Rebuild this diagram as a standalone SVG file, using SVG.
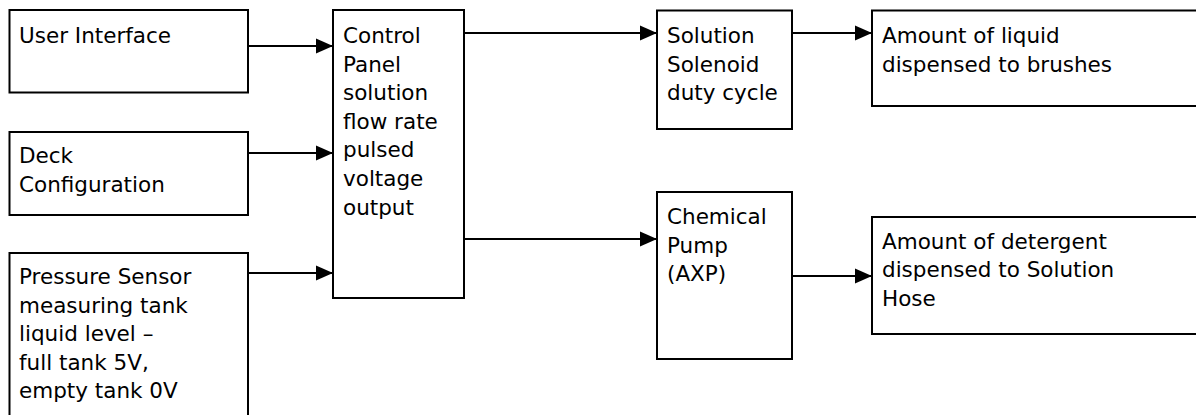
<svg xmlns="http://www.w3.org/2000/svg" width="1196" height="415" viewBox="0 0 1196 415">
<style>
.box{fill:#fff;stroke:#000;stroke-width:2}
.t{font-family:"DejaVu Sans",sans-serif;font-size:21.5px;fill:#000}
.c{stroke:#000;stroke-width:2;fill:none}
</style>
<defs>
<marker id="arr" markerUnits="userSpaceOnUse" markerWidth="17" markerHeight="16" refX="17" refY="8" orient="auto">
<path d="M0,0.5 L17,8 L0,15.5 z" fill="#000"/>
</marker>
</defs>
<rect width="1196" height="415" fill="#fff"/>
<g id="connectors">
<line class="c" x1="248" y1="46" x2="333" y2="46" marker-end="url(#arr)"/>
<line class="c" x1="248" y1="153" x2="333" y2="153" marker-end="url(#arr)"/>
<line class="c" x1="248" y1="273" x2="333" y2="273" marker-end="url(#arr)"/>
<line class="c" x1="464" y1="33" x2="657" y2="33" marker-end="url(#arr)"/>
<line class="c" x1="464" y1="239" x2="657" y2="239" marker-end="url(#arr)"/>
<line class="c" x1="792" y1="33" x2="872" y2="33" marker-end="url(#arr)"/>
<line class="c" x1="792" y1="276" x2="872" y2="276" marker-end="url(#arr)"/>
</g>
<g id="user-interface">
<rect class="box" x="9.5" y="10" width="238.5" height="82.5"/>
<text class="t" x="19" y="43">User Interface</text>
</g>
<g id="deck-configuration">
<rect class="box" x="9.5" y="132" width="238.5" height="83"/>
<text class="t" x="19" y="163">Deck</text>
<text class="t" x="19" y="191.5">Configuration</text>
</g>
<g id="pressure-sensor">
<rect class="box" x="9.5" y="253" width="238.5" height="180"/>
<text class="t" x="19" y="284">Pressure Sensor</text>
<text class="t" x="19" y="312.6">measuring tank</text>
<text class="t" x="19" y="341.2">liquid level –</text>
<text class="t" x="19" y="369.8">full tank 5V,</text>
<text class="t" x="19" y="398.4">empty tank 0V</text>
</g>
<g id="control-panel">
<rect class="box" x="333" y="10" width="131" height="288"/>
<text class="t" x="343" y="43">Control</text>
<text class="t" x="343" y="71.6">Panel</text>
<text class="t" x="343" y="100.2">solution</text>
<text class="t" x="343" y="128.8">flow rate</text>
<text class="t" x="343" y="157.4">pulsed</text>
<text class="t" x="343" y="186">voltage</text>
<text class="t" x="343" y="214.6">output</text>
</g>
<g id="solution-solenoid">
<rect class="box" x="657" y="10.5" width="135" height="118.5"/>
<text class="t" x="667" y="43">Solution</text>
<text class="t" x="667" y="71.6">Solenoid</text>
<text class="t" x="667" y="100.2">duty cycle</text>
</g>
<g id="amount-liquid">
<rect class="box" x="872" y="10.5" width="340" height="95.5"/>
<text class="t" x="882" y="43">Amount of liquid</text>
<text class="t" x="882" y="71.6">dispensed to brushes</text>
</g>
<g id="chemical-pump">
<rect class="box" x="657" y="192" width="135" height="167"/>
<text class="t" x="667" y="224">Chemical</text>
<text class="t" x="667" y="252.6">Pump</text>
<text class="t" x="667" y="281.2">(AXP)</text>
</g>
<g id="amount-detergent">
<rect class="box" x="872" y="217" width="340" height="117"/>
<text class="t" x="882" y="248.5">Amount of detergent</text>
<text class="t" x="882" y="277.1">dispensed to Solution</text>
<text class="t" x="882" y="305.7">Hose</text>
</g>
</svg>
